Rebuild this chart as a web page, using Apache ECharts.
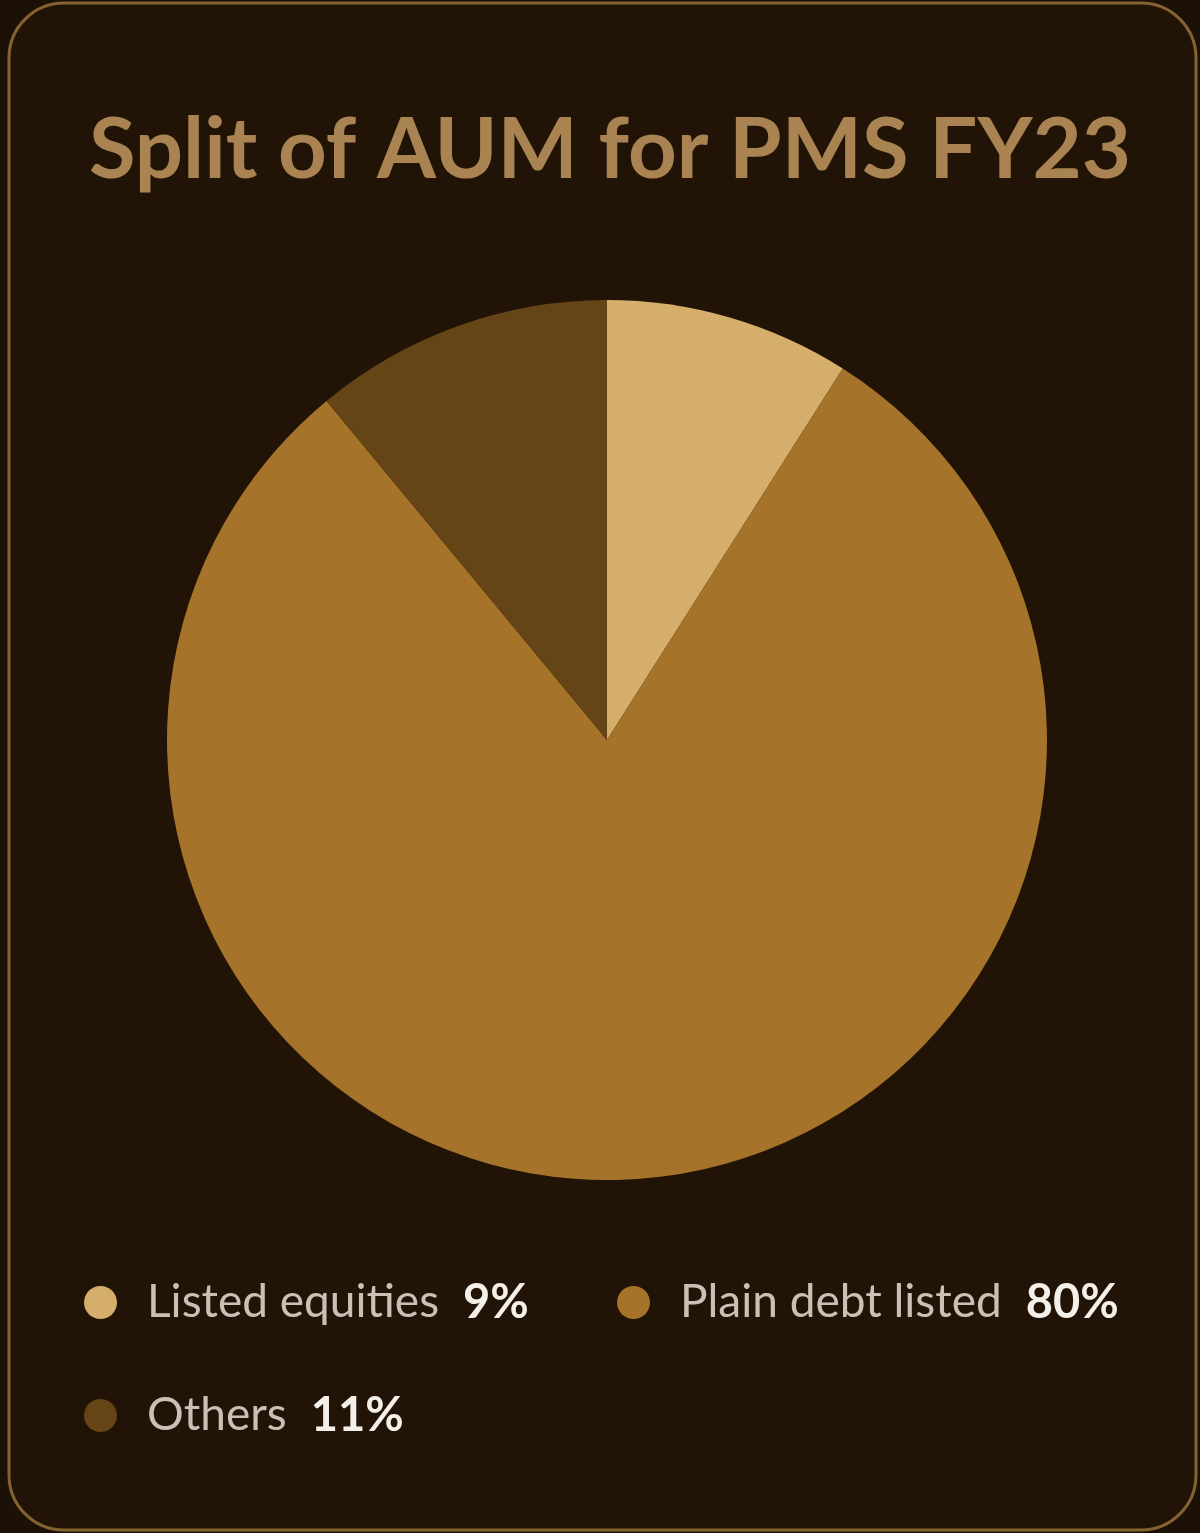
<!DOCTYPE html>
<html><head><meta charset="utf-8">
<script src="https://cdn.jsdelivr.net/npm/echarts@6/dist/echarts.min.js"></script>
<style>html,body{margin:0;padding:0;background:#1c1106;}#c{width:1200px;height:1533px;}</style>
</head><body><div id="c"></div>
<script>
const categories = ['Listed equities', 'Plain debt listed', 'Others'];
const values = [9, 80, 11];
const colors = ['#d4ae6a', '#a57329', '#654415'];
const titleText = 'Split of AUM for PMS FY23';

const chart = echarts.init(document.getElementById('c'));
const data = categories.map((n, i) => ({ name: n, value: values[i], itemStyle: { color: colors[i] } }));
const legendPos = [[84, 1279], [617, 1279], [84, 1392]];
const legends = categories.map((n, i) => ({
  data: [n], left: legendPos[i][0], top: legendPos[i][1], orient: 'horizontal',
  icon: 'circle', itemWidth: 33, itemHeight: 33, itemGap: 0, padding: 0,
  selectedMode: false,
  formatter: name => '{n|' + name + '}{s|}{v|' + values[categories.indexOf(name)] + '%}',
  textStyle: {
    padding: [0, 0, 0, 25],
    rich: {
      n: { fontFamily: 'Lato', fontSize: 46, color: '#c9c1b5' },
      s: { width: 24 },
      v: { fontFamily: 'Lato', fontSize: 47, fontWeight: 'bold', color: '#f4efe8' }
    }
  }
}));
chart.setOption({
  backgroundColor: '#1c1106',
  animation: false,
  graphic: [{
    type: 'rect', shape: { x: 9, y: 3, width: 1187, height: 1527, r: 55 },
    style: { fill: '#211406', stroke: '#856230', lineWidth: 3 }, z: -10
  }],
  title: {
    text: titleText, left: 84, top: 103,
    textStyle: { fontFamily: 'Lato', fontSize: 85, fontWeight: 'bold', color: '#a98351' }
  },
  legend: legends,
  series: [{
    type: 'pie', center: [607, 740], radius: 440, startAngle: 90, clockwise: true,
    label: { show: false }, labelLine: { show: false }, silent: true,
    itemStyle: { borderWidth: 0 },
    data: data
  }]
});
</script></body></html>
